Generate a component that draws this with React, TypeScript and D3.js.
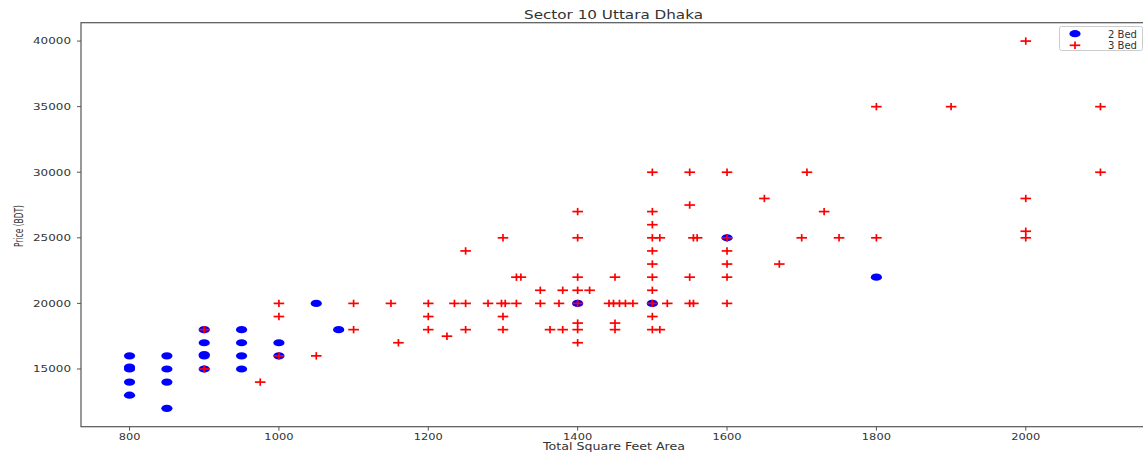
import React from "react";
import * as d3 from "d3";

const W = 1143;
const H = 456;

const title = "Sector 10 Uttara Dhaka";
const xLabel = "Total Square Feet Area";
const yLabel = "Price (BDT)";
const seriesNames = ["2 Bed", "3 Bed"];

const xTicks = [800, 1000, 1200, 1400, 1600, 1800, 2000];
const yTicks = [15000, 20000, 25000, 30000, 35000, 40000];

const twoBedSqft = [
  800, 800, 800, 800, 800,
  850, 850, 850, 850,
  900, 900, 900, 900, 900,
  950, 950, 950, 950,
  1000, 1000, 1050, 1080, 1400, 1500, 1600, 1800,
];
const twoBedPrice = [
  16000, 15000, 15150, 14000, 13000,
  16000, 15000, 14000, 12000,
  18000, 17000, 16000, 16100, 15000,
  18000, 17000, 16000, 15000,
  17000, 16000, 20000, 18000, 20000, 20000, 25000, 22000,
];

const threeBedSqft = [
  900, 900, 975, 1000, 1000, 1000, 1050, 1100, 1100, 1150, 1160,
  1200, 1200, 1200, 1225, 1235, 1250, 1250, 1250, 1280, 1298, 1303,
  1300, 1300, 1300, 1318, 1318, 1324, 1350, 1350, 1363, 1375, 1380, 1380,
  1400, 1400, 1400, 1400, 1400, 1400, 1400, 1400, 1416,
  1442, 1448, 1456, 1464, 1474, 1450, 1450, 1450,
  1500, 1500, 1500, 1500, 1500, 1500, 1500, 1500, 1500, 1500, 1500,
  1510, 1510, 1520, 1550, 1550, 1550, 1550, 1555, 1555, 1560,
  1600, 1600, 1600, 1600, 1600, 1600, 1650, 1670, 1700, 1707, 1730, 1750,
  1800, 1800, 1900, 2000, 2000, 2000, 2000, 2100, 2100,
];
const threeBedPrice = [
  18000, 15000, 14000, 20000, 19000, 16000, 16000, 20000, 18000, 20000, 17000,
  20000, 19000, 18000, 17500, 20000, 24000, 20000, 18000, 20000, 20000, 20000,
  25000, 19000, 18000, 22000, 20000, 22000, 21000, 20000, 18000, 20000, 21000, 18000,
  27000, 25000, 22000, 21000, 20000, 18500, 18000, 17000, 21000,
  20000, 20000, 20000, 20000, 20000, 22000, 18500, 18000,
  30000, 27000, 26000, 25000, 24000, 23000, 22000, 21000, 20000, 19000, 18000,
  25000, 18000, 20000, 30000, 27500, 22000, 20000, 25000, 20000, 25000,
  30000, 25000, 24000, 23000, 22000, 20000, 28000, 23000, 25000, 30000, 27000, 25000,
  35000, 25000, 35000, 40000, 28000, 25500, 25000, 35000, 30000,
];

const plot = { left: 81, right: 1149, top: 22.7, bottom: 426.7 };
const FONT = "DejaVu Sans, sans-serif";
const TEXT = "#333";
const AXIS = "#555";

export default function App() {
  const x = d3.scaleLinear().domain([735, 2165]).range([plot.left, plot.right]);
  const y = d3.scaleLinear().domain([10600, 41400]).range([plot.bottom, plot.top]);

  const twoBed = twoBedSqft.map((s, i) => ({ s, p: twoBedPrice[i] }));
  const threeBed = threeBedSqft.map((s, i) => ({ s, p: threeBedPrice[i] }));

  const plus = (cx: number, cy: number, key: string | number) => (
    <g key={key} stroke="#ff0000" strokeWidth={1.7}>
      <line x1={cx - 5.3} x2={cx + 5.3} y1={cy} y2={cy} />
      <line x1={cx} x2={cx} y1={cy - 3.7} y2={cy + 3.7} />
    </g>
  );

  const digitW = 7.4;

  return (
    <div style={{ position: "fixed", left: 0, top: 0 }}>
      <svg width={W} height={H} style={{ display: "block", background: "#fff" }}>
        <rect x={0} y={0} width={W} height={H} fill="#fff" />
        <text x={613.5} y={19} textAnchor="middle" fontFamily={FONT} fontSize={12} fill={TEXT}
          textLength={179} lengthAdjust="spacingAndGlyphs">{title}</text>

        {/* axes frame */}
        <rect x={plot.left} y={plot.top} width={plot.right - plot.left} height={plot.bottom - plot.top}
          fill="none" stroke={AXIS} strokeWidth={1.2} />

        {/* x ticks */}
        {xTicks.map((t) => (
          <g key={"xt" + t}>
            <line x1={x(t)} x2={x(t)} y1={plot.bottom} y2={plot.bottom + 4} stroke={AXIS} strokeWidth={1} />
            <text x={x(t)} y={439.5} textAnchor="middle" fontFamily={FONT} fontSize={9.5} fill={TEXT}
              textLength={String(t).length * digitW - 0.5} lengthAdjust="spacingAndGlyphs">{t}</text>
          </g>
        ))}
        {/* y ticks */}
        {yTicks.map((t) => (
          <g key={"yt" + t}>
            <line x1={plot.left - 4} x2={plot.left} y1={y(t)} y2={y(t)} stroke={AXIS} strokeWidth={1} />
            <text x={71} y={y(t) + 3.4} textAnchor="end" fontFamily={FONT} fontSize={9.5} fill={TEXT}
              textLength={String(t).length * 7.6} lengthAdjust="spacingAndGlyphs">{t}</text>
          </g>
        ))}

        <text x={614} y={449.5} textAnchor="middle" fontFamily={FONT} fontSize={10} fill={TEXT}
          textLength={142} lengthAdjust="spacingAndGlyphs">{xLabel}</text>
        <text transform="translate(22.5,226) rotate(-90)" textAnchor="middle" fontFamily={FONT} fontSize={12}
          fill={TEXT} textLength={42} lengthAdjust="spacingAndGlyphs">{yLabel}</text>

        {/* points */}
        <g>
          {twoBed.map((d, i) => (
            <ellipse key={"b" + i} cx={x(d.s)} cy={y(d.p)} rx={5.6} ry={3.6} fill="#0000ff" />
          ))}
        </g>
        <g>{threeBed.map((d, i) => plus(x(d.s), y(d.p), "r" + i))}</g>

        {/* legend */}
        <rect x={1059.5} y={26.5} width={83} height={24} rx={2} fill="#fff" fillOpacity={0.8} stroke="#ccc" strokeWidth={1} />
        <ellipse cx={1075} cy={33.7} rx={5.6} ry={3.6} fill="#0000ff" />
        {plus(1075, 45.3, "lg")}
        <text x={1108} y={37.6} fontFamily={FONT} fontSize={10.5} fill={TEXT} textLength={29}
          lengthAdjust="spacingAndGlyphs">{seriesNames[0]}</text>
        <text x={1108} y={49.2} fontFamily={FONT} fontSize={10.5} fill={TEXT} textLength={29}
          lengthAdjust="spacingAndGlyphs">{seriesNames[1]}</text>
      </svg>
    </div>
  );
}
